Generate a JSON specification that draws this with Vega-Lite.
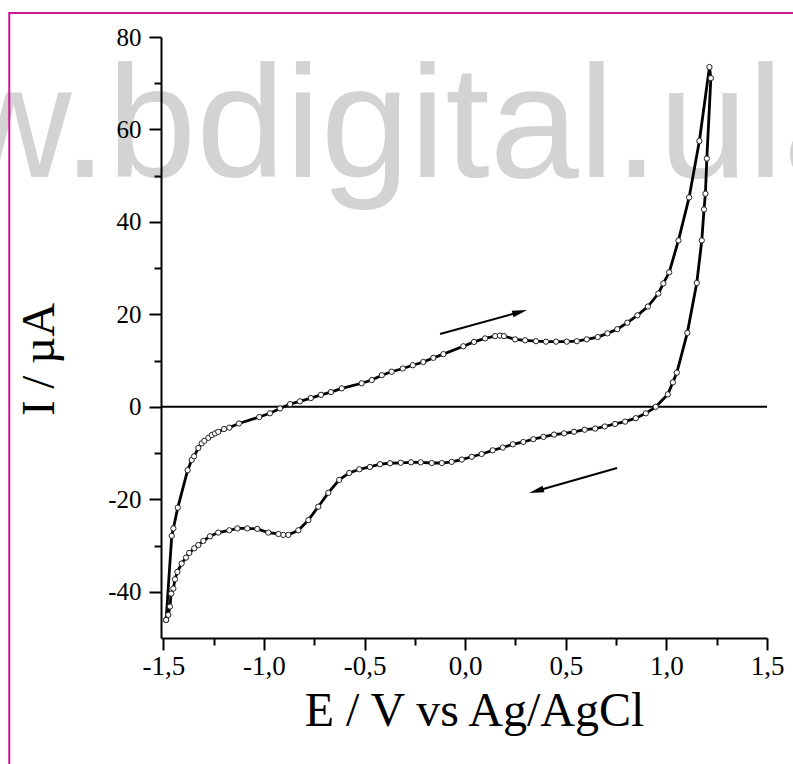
{
  "$schema": "https://vega.github.io/schema/vega-lite/v6.json",
  "width": 606,
  "height": 601,
  "autosize": {"type": "none"},
  "padding": {"left": 161, "top": 37, "right": 26, "bottom": 126},
  "background": "white",
  "config": {"view": {"stroke": null}, "font": "Liberation Serif"},
  "data": {"values": [{"note": "annotation"}]},
  "datasets": {
    "cv": [
      {"n": 0, "E": -1.486, "I": -46.1},
      {"n": 1, "E": -1.458, "I": -27.9},
      {"n": 2, "E": -1.450, "I": -26.3},
      {"n": 3, "E": -1.428, "I": -21.8},
      {"n": 4, "E": -1.379, "I": -13.7},
      {"n": 5, "E": -1.359, "I": -11.5},
      {"n": 6, "E": -1.347, "I": -10.7},
      {"n": 7, "E": -1.326, "I": -8.9},
      {"n": 8, "E": -1.309, "I": -7.9},
      {"n": 9, "E": -1.296, "I": -7.35},
      {"n": 10, "E": -1.276, "I": -6.7},
      {"n": 11, "E": -1.259, "I": -6.1},
      {"n": 12, "E": -1.243, "I": -5.75},
      {"n": 13, "E": -1.227, "I": -5.4},
      {"n": 14, "E": -1.198, "I": -4.8},
      {"n": 15, "E": -1.172, "I": -4.5},
      {"n": 16, "E": -1.124, "I": -3.6},
      {"n": 17, "E": -1.023, "I": -2.2},
      {"n": 18, "E": -0.970, "I": -1.4},
      {"n": 19, "E": -0.920, "I": -0.35},
      {"n": 20, "E": -0.870, "I": 0.6},
      {"n": 21, "E": -0.821, "I": 1.2},
      {"n": 22, "E": -0.767, "I": 1.9},
      {"n": 23, "E": -0.716, "I": 2.6},
      {"n": 24, "E": -0.667, "I": 3.2},
      {"n": 25, "E": -0.613, "I": 4.0},
      {"n": 26, "E": -0.514, "I": 5.1},
      {"n": 27, "E": -0.464, "I": 5.8},
      {"n": 28, "E": -0.414, "I": 6.85},
      {"n": 29, "E": -0.365, "I": 7.6},
      {"n": 30, "E": -0.310, "I": 8.3},
      {"n": 31, "E": -0.260, "I": 9.0},
      {"n": 32, "E": -0.208, "I": 9.7},
      {"n": 33, "E": -0.158, "I": 10.6},
      {"n": 34, "E": -0.108, "I": 11.4},
      {"n": 35, "E": -0.009, "I": 13.1},
      {"n": 36, "E": 0.044, "I": 14.05},
      {"n": 37, "E": 0.099, "I": 14.8},
      {"n": 38, "E": 0.149, "I": 15.3},
      {"n": 39, "E": 0.173, "I": 15.4},
      {"n": 40, "E": 0.193, "I": 15.3},
      {"n": 41, "E": 0.248, "I": 14.6},
      {"n": 42, "E": 0.298, "I": 14.4},
      {"n": 43, "E": 0.352, "I": 14.2},
      {"n": 44, "E": 0.402, "I": 14.1},
      {"n": 45, "E": 0.452, "I": 14.1},
      {"n": 46, "E": 0.505, "I": 14.1},
      {"n": 47, "E": 0.555, "I": 14.2},
      {"n": 48, "E": 0.604, "I": 14.6},
      {"n": 49, "E": 0.659, "I": 15.1},
      {"n": 50, "E": 0.707, "I": 15.9},
      {"n": 51, "E": 0.756, "I": 16.8},
      {"n": 52, "E": 0.806, "I": 18.2},
      {"n": 53, "E": 0.856, "I": 19.8},
      {"n": 54, "E": 0.908, "I": 21.7},
      {"n": 55, "E": 0.960, "I": 24.5},
      {"n": 56, "E": 0.985, "I": 26.7},
      {"n": 57, "E": 1.014, "I": 29.1},
      {"n": 58, "E": 1.060, "I": 36.0},
      {"n": 59, "E": 1.113, "I": 45.3},
      {"n": 60, "E": 1.164, "I": 57.5},
      {"n": 61, "E": 1.214, "I": 73.5},
      {"n": 62, "E": 1.221, "I": 71.1},
      {"n": 63, "E": 1.201, "I": 53.7},
      {"n": 64, "E": 1.194, "I": 46.1},
      {"n": 65, "E": 1.187, "I": 42.7},
      {"n": 66, "E": 1.176, "I": 36.0},
      {"n": 67, "E": 1.151, "I": 26.8},
      {"n": 68, "E": 1.104, "I": 16.0},
      {"n": 69, "E": 1.052, "I": 7.4},
      {"n": 70, "E": 1.032, "I": 5.3},
      {"n": 71, "E": 1.007, "I": 2.7},
      {"n": 72, "E": 0.947, "I": 0.0},
      {"n": 73, "E": 0.898, "I": -1.4},
      {"n": 74, "E": 0.848, "I": -2.45},
      {"n": 75, "E": 0.795, "I": -3.2},
      {"n": 76, "E": 0.745, "I": -3.7},
      {"n": 77, "E": 0.694, "I": -4.25},
      {"n": 78, "E": 0.646, "I": -4.7},
      {"n": 79, "E": 0.594, "I": -4.95},
      {"n": 80, "E": 0.541, "I": -5.4},
      {"n": 81, "E": 0.492, "I": -5.75},
      {"n": 82, "E": 0.442, "I": -6.0},
      {"n": 83, "E": 0.389, "I": -6.5},
      {"n": 84, "E": 0.339, "I": -7.0},
      {"n": 85, "E": 0.289, "I": -7.6},
      {"n": 86, "E": 0.237, "I": -8.1},
      {"n": 87, "E": 0.187, "I": -8.8},
      {"n": 88, "E": 0.137, "I": -9.4},
      {"n": 89, "E": 0.082, "I": -10.2},
      {"n": 90, "E": 0.033, "I": -10.8},
      {"n": 91, "E": -0.017, "I": -11.4},
      {"n": 92, "E": -0.067, "I": -11.9},
      {"n": 93, "E": -0.116, "I": -12.15},
      {"n": 94, "E": -0.166, "I": -12.15},
      {"n": 95, "E": -0.221, "I": -12.0},
      {"n": 96, "E": -0.269, "I": -12.0},
      {"n": 97, "E": -0.320, "I": -12.1},
      {"n": 98, "E": -0.373, "I": -12.2},
      {"n": 99, "E": -0.423, "I": -12.4},
      {"n": 100, "E": -0.473, "I": -13.0},
      {"n": 101, "E": -0.526, "I": -13.5},
      {"n": 102, "E": -0.576, "I": -14.3},
      {"n": 103, "E": -0.626, "I": -15.8},
      {"n": 104, "E": -0.680, "I": -18.6},
      {"n": 105, "E": -0.730, "I": -21.6},
      {"n": 106, "E": -0.779, "I": -24.5},
      {"n": 107, "E": -0.829, "I": -26.7},
      {"n": 108, "E": -0.879, "I": -27.7},
      {"n": 109, "E": -0.904, "I": -27.7},
      {"n": 110, "E": -0.928, "I": -27.5},
      {"n": 111, "E": -0.978, "I": -27.2},
      {"n": 112, "E": -1.033, "I": -26.4},
      {"n": 113, "E": -1.083, "I": -26.3},
      {"n": 114, "E": -1.132, "I": -26.3},
      {"n": 115, "E": -1.172, "I": -26.7},
      {"n": 116, "E": -1.227, "I": -27.2},
      {"n": 117, "E": -1.268, "I": -28.0},
      {"n": 118, "E": -1.301, "I": -29.0},
      {"n": 119, "E": -1.326, "I": -29.9},
      {"n": 120, "E": -1.346, "I": -30.6},
      {"n": 121, "E": -1.371, "I": -31.6},
      {"n": 122, "E": -1.387, "I": -32.6},
      {"n": 123, "E": -1.409, "I": -33.9},
      {"n": 124, "E": -1.430, "I": -35.7},
      {"n": 125, "E": -1.442, "I": -37.3},
      {"n": 126, "E": -1.450, "I": -39.3},
      {"n": 127, "E": -1.461, "I": -40.4},
      {"n": 128, "E": -1.467, "I": -43.2},
      {"n": 129, "E": -1.475, "I": -45.0},
      {"n": 130, "E": -1.486, "I": -46.1}
    ]
  },
  "layer": [
    {
      "mark": {"type": "text", "font": "Liberation Sans", "fontSize": 160, "align": "left", "baseline": "alphabetic", "color": "#d3d3d3", "clip": false},
      "encoding": {
        "x": {"datum": -3.678, "type": "quantitative"},
        "y": {"datum": 49.7, "type": "quantitative"},
        "text": {"value": "www.bdigital.ula.ve"}
      }
    },
    {
      "mark": {"type": "rect", "fill": "white", "fillOpacity": 0, "stroke": "#cc1599", "strokeWidth": 2, "clip": false},
      "encoding": {
        "x": {"datum": -2.2654, "type": "quantitative"},
        "x2": {"datum": 3.5},
        "y": {"datum": 85.2, "type": "quantitative"},
        "y2": {"datum": -150}
      }
    },
    {
      "mark": {"type": "rule", "color": "black", "strokeWidth": 2},
      "encoding": {"y": {"datum": 0, "type": "quantitative"}}
    },
    {
      "data": {"name": "cv"},
      "mark": {"type": "line", "color": "black", "strokeWidth": 2.8},
      "encoding": {
        "x": {
          "field": "E", "type": "quantitative",
          "scale": {"domain": [-1.5114, 1.5], "nice": false, "zero": false},
          "axis": {
            "values": [-1.5, -1.25, -1, -0.75, -0.5, -0.25, 0, 0.25, 0.5, 0.75, 1, 1.25, 1.5],
            "labelExpr": "abs(datum.value*2 - round(datum.value*2)) > 0.01 ? '' : replace(replace(format(datum.value, '.1f'), '.', ','), '\u2212', '-')",
            "tickSize": {"condition": {"test": "abs(datum.value*2 - round(datum.value*2)) > 0.01", "value": 7}, "value": 12},
            "grid": false, "domainColor": "black", "domainWidth": 2, "tickColor": "black", "tickWidth": 2,
            "labelFont": "Liberation Serif", "labelFontSize": 27, "labelColor": "black", "labelPadding": 3,
            "labelFlush": false, "labelOverlap": false, "zindex": 1,
            "title": "E / V vs Ag/AgCl", "titleFont": "Liberation Serif", "titleFontSize": 48, "titleFontWeight": "normal", "titleColor": "black",
            "titleX": 313, "titleY": 87, "titleBaseline": "alphabetic", "titleAlign": "center"
          }
        },
        "y": {
          "field": "I", "type": "quantitative",
          "scale": {"domain": [-50, 80], "nice": false, "zero": false},
          "axis": {
            "values": [-40, -30, -20, -10, 0, 10, 20, 30, 40, 50, 60, 70, 80],
            "labelExpr": "datum.value % 20 != 0 ? '' : replace(format(datum.value, 'd'), '\u2212', '-')",
            "tickSize": {"condition": {"test": "datum.value % 20 != 0", "value": 7}, "value": 12},
            "grid": false, "domainColor": "black", "domainWidth": 2, "tickColor": "black", "tickWidth": 2,
            "labelFont": "Liberation Serif", "labelFontSize": 25, "labelColor": "black", "labelPadding": 8,
            "labelFlush": false, "labelOverlap": false, "zindex": 1,
            "title": "I / µA", "titleFont": "Liberation Serif", "titleFontSize": 47, "titleFontWeight": "normal", "titleColor": "black",
            "titleAngle": -90, "titleX": -108, "titleY": 322, "titleBaseline": "alphabetic", "titleAlign": "center"
          }
        },
        "order": {"field": "n", "type": "quantitative"}
      }
    },
    {
      "data": {"name": "cv"},
      "mark": {"type": "point", "shape": "circle", "filled": false, "fill": "white", "fillOpacity": 1, "stroke": "#222222", "strokeWidth": 1, "size": 28, "opacity": 1},
      "encoding": {
        "x": {"field": "E", "type": "quantitative"},
        "y": {"field": "I", "type": "quantitative"}
      }
    },
    {
      "mark": {"type": "rule", "color": "black", "strokeWidth": 2},
      "encoding": {
        "x": {"datum": -0.1247, "type": "quantitative"},
        "y": {"datum": 15.76, "type": "quantitative"},
        "x2": {"datum": 0.272},
        "y2": {"datum": 20.52}
      }
    },
    {
      "mark": {"type": "point", "shape": "M-1,-0.45L1,0L-1,0.45Z", "filled": true, "color": "black", "size": 225, "angle": 344.6, "opacity": 1},
      "encoding": {
        "x": {"datum": 0.272, "type": "quantitative"},
        "y": {"datum": 20.52, "type": "quantitative"}
      }
    },
    {
      "mark": {"type": "rule", "color": "black", "strokeWidth": 2},
      "encoding": {
        "x": {"datum": 0.755, "type": "quantitative"},
        "y": {"datum": -13.23, "type": "quantitative"},
        "x2": {"datum": 0.3534},
        "y2": {"datum": -18.2}
      }
    },
    {
      "mark": {"type": "point", "shape": "M-1,-0.45L1,0L-1,0.45Z", "filled": true, "color": "black", "size": 225, "angle": 164.1, "opacity": 1},
      "encoding": {
        "x": {"datum": 0.3534, "type": "quantitative"},
        "y": {"datum": -18.2, "type": "quantitative"}
      }
    }
  ]
}
